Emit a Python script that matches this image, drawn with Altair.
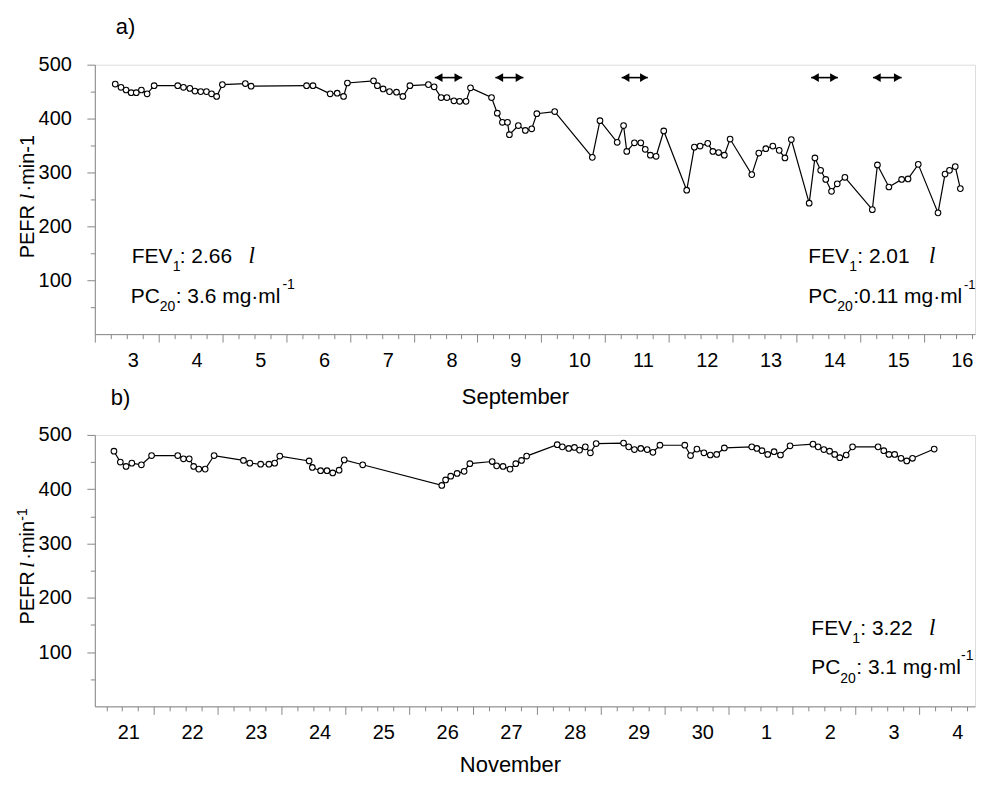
import json
import altair as alt
import pandas as pd

# ---------------- panel a : September ----------------
sep_day = [3.32, 3.41, 3.49, 3.57, 3.65, 3.73, 3.82, 3.93, 4.30, 4.39, 4.49, 4.57, 4.66, 4.75,
           4.83, 4.91, 5.00, 5.36, 5.45, 6.32, 6.42, 6.69, 6.80, 6.90, 6.96, 7.37, 7.43, 7.52,
           7.62, 7.73, 7.83, 7.94, 8.23, 8.32, 8.43, 8.52, 8.63, 8.72, 8.82, 8.89, 9.22, 9.31,
           9.39, 9.47, 9.50, 9.64, 9.75, 9.85, 9.93, 10.21, 10.80, 10.92, 11.19, 11.29, 11.34,
           11.46, 11.56, 11.63, 11.71, 11.80, 11.92, 12.28, 12.40, 12.49, 12.61, 12.69, 12.78,
           12.87, 12.96, 13.30, 13.41, 13.52, 13.63, 13.73, 13.82, 13.92, 14.20, 14.29, 14.38,
           14.46, 14.55, 14.64, 14.76, 15.19, 15.27, 15.45, 15.65, 15.75, 15.91, 16.22, 16.33,
           16.40, 16.49, 16.57]
sep_pefr = [464, 458, 453, 448, 448, 453, 446, 461, 461, 458, 456, 451, 450, 450,
            446, 441, 463, 465, 460, 461, 461, 446, 447, 441, 466, 470, 461, 455,
            450, 449, 441, 461, 463, 459, 439, 439, 433, 432, 432, 457, 439, 410,
            393, 393, 370, 387, 378, 381, 409, 413, 328, 396, 356, 387, 339,
            355, 355, 343, 332, 330, 377, 267, 347, 349, 354, 339, 337,
            332, 362, 296, 336, 344, 349, 341, 327, 361, 243, 327, 304,
            287, 265, 279, 291, 231, 314, 273, 287, 288, 315, 225, 297,
            304, 311, 270]
sep_labels = ["3", "4", "5", "6", "7", "8", "9", "10", "11", "12", "13", "14", "15", "16"]
exposure_start = [8.33, 9.28, 11.26, 14.23, 15.20]
exposure_end = [8.76, 9.72, 11.67, 14.65, 15.65]
exposure_level = [476, 476, 476, 476, 476]

# ---------------- panel b : November ----------------
nov_day = [21.37, 21.47, 21.56, 21.65, 21.80, 21.96, 22.37, 22.46, 22.55, 22.62, 22.70, 22.80,
           22.94, 23.40, 23.50, 23.67, 23.80, 23.89, 23.97, 24.43, 24.48, 24.61, 24.71, 24.80,
           24.90, 24.98, 25.27, 26.51, 26.57, 26.65, 26.75, 26.86, 26.95, 27.30, 27.37, 27.47,
           27.58, 27.67, 27.76, 27.84, 28.32, 28.40, 28.50, 28.59, 28.67, 28.76, 28.84, 28.93,
           29.36, 29.44, 29.53, 29.63, 29.73, 29.82, 29.93, 30.32, 30.41, 30.51, 30.62, 30.72,
           30.82, 30.94, 31.37, 31.45, 31.53, 31.62, 31.72, 31.82, 31.97, 32.33, 32.41, 32.50,
           32.59, 32.67, 32.75, 32.85, 32.95, 33.35, 33.44, 33.52, 33.61, 33.71, 33.80, 33.89,
           34.23]
nov_pefr = [470, 450, 442, 448, 445, 462, 462, 456, 456, 442, 437, 437,
            462, 453, 448, 446, 446, 448, 461, 452, 440, 434, 434, 430,
            435, 454, 445, 407, 417, 424, 429, 433, 447, 451, 443, 442,
            437, 447, 453, 461, 482, 478, 475, 477, 472, 478, 467, 484,
            485, 478, 473, 475, 473, 468, 481, 481, 462, 474, 467, 463,
            464, 476, 478, 475, 471, 464, 469, 463, 480, 483, 478, 473,
            470, 464, 458, 463, 478, 478, 471, 464, 464, 457, 452, 457,
            474]
nov_labels = ["21", "22", "23", "24", "25", "26", "27", "28", "29", "30", "1", "2", "3", "4"]

FONT = "Liberation Sans"
SERIF = "Liberation Serif"
W = 882
ONE = pd.DataFrame({"k": [0]})


def piece(text, x, y, size=21, font=FONT, style="normal", angle=0):
    return alt.Chart(ONE).mark_text(
        text=text, font=font, fontSize=size, fontStyle=style, angle=angle,
        align="left", baseline="alphabetic", color="black"
    ).encode(x=alt.value(x), y=alt.value(y))


def x_axis(labels, first, ticks, title, tx, ty):
    expr = (f"datum.value % 1 === 0.5 ? {json.dumps(labels)}"
            f"[datum.value - 0.5 - {first}] : ''")
    return alt.Axis(
        values=ticks, labelExpr=expr, labelOffset=6, labelOverlap=False, labelFlush=False,
        tickSize={"condition": {"test": "datum.value % 1 === 0", "value": 8}, "value": 4.5},
        labelFont=FONT, labelFontSize=20, labelPadding=12, labelColor="black",
        title=title, titleFont=FONT, titleFontSize=22, titleFontWeight="normal",
        titleColor="black", titleX=tx, titleY=ty, titleAlign="center",
        titleBaseline="alphabetic", grid=False,
    )


Y_AXIS = alt.Axis(
    values=list(range(50, 501, 50)),
    labelExpr="datum.value % 100 === 0 ? datum.label : ''",
    tickSize={"condition": {"test": "datum.value % 100 === 0", "value": 8}, "value": 4.5},
    labelFont=FONT, labelFontSize=20, labelPadding=15.5, labelColor="black",
    title=None, grid=False,
)


def panel(day, pefr, xdom, labels, first, ticks, xtitle, tx, ty, height, extras, with_arrows):
    df = pd.DataFrame({"day": day, "pefr": pefr})
    xs = alt.Scale(domain=xdom, nice=False, zero=False)
    ys = alt.Scale(domain=[0, 500], nice=False, zero=False)
    xa = x_axis(labels, first, ticks, xtitle, tx, ty)
    base = alt.Chart(df).encode(
        x=alt.X("day:Q", scale=xs, axis=xa),
        y=alt.Y("pefr:Q", scale=ys, axis=Y_AXIS),
    )
    line = base.mark_line(color="black", strokeWidth=1.2)
    pts = base.mark_point(shape="circle", filled=True, fill="white", stroke="black",
                          strokeWidth=1.1, size=32, opacity=1)
    layers = [line, pts]
    if with_arrows:
        arr = alt.Chart(pd.DataFrame({"s": exposure_start, "e": exposure_end,
                                      "lvl": exposure_level}))
        yl = alt.Y("lvl:Q", scale=ys, axis=Y_AXIS)
        layers.append(arr.mark_rule(color="black", strokeWidth=1.6).encode(
            x=alt.X("s:Q", scale=xs, axis=xa), x2="e:Q", y=yl))
        layers.append(arr.mark_point(shape="triangle-left", filled=True, color="black",
                                     size=75, opacity=1, xOffset=4).encode(
            x=alt.X("s:Q", scale=xs, axis=xa), y=yl))
        layers.append(arr.mark_point(shape="triangle-right", filled=True, color="black",
                                     size=75, opacity=1, xOffset=-4).encode(
            x=alt.X("e:Q", scale=xs, axis=xa), y=yl))
    layers.extend(extras)
    return alt.layer(*layers).properties(width=W, height=height)


extras_a = [
    piece("a)", 21, -31, 22),
    piece("PEFR", -61, 194, 20, angle=270),
    piece("l", -61, 135, 21, font=SERIF, style="italic", angle=270),
    piece("\u00b7min-1", -61, 127, 20, angle=270),
    piece("FEV", 37, 199), piece("1", 78, 207, 14), piece(": 2.66", 85, 199),
    piece("l", 154, 199, 23, font=SERIF, style="italic"),
    piece("PC", 36, 239), piece("20", 65, 247, 14), piece(": 3.6 mg\u00b7ml", 81, 239),
    piece("-1", 188, 225, 14),
    piece("FEV", 715, 199), piece("1", 756, 207, 14), piece(": 2.01", 764, 199),
    piece("l", 836, 199, 23, font=SERIF, style="italic"),
    piece("PC", 715, 239), piece("20", 744, 247, 14), piece(":0.11 mg\u00b7ml", 760, 239),
    piece("-1", 871, 225, 13),
]

extras_b = [
    piece("b)", 16, -30, 22),
    piece("PEFR", -61, 190, 20, angle=270),
    piece("l", -61, 133, 21, font=SERIF, style="italic", angle=270),
    piece("\u00b7min", -61, 125, 20, angle=270),
    piece("-1", -68, 86, 14, angle=270),
    piece("FEV", 718, 200), piece("1", 759, 209, 14), piece(": 3.22", 767, 200),
    piece("l", 836, 200, 23, font=SERIF, style="italic"),
    piece("PC", 718, 240), piece("20", 747, 249, 14), piece(": 3.1 mg\u00b7ml", 763, 240),
    piece("-1", 868, 226, 14),
]

ticks_a = [3 + 0.25 * i for i in range(56)]
ticks_b = [21.25 + 0.25 * i for i in range(55)]

pa = panel(sep_day, sep_pefr, [3, 16.8], sep_labels, 3, ticks_a, "September", 421, 70, 270,
           extras_a, True)
pb = panel(nov_day, nov_pefr, [21.07, 34.87], nov_labels, 21, ticks_b, "November", 416, 65, 272,
           extras_b, False)

chart = alt.vconcat(pa, pb, spacing=101, bounds="flush").properties(
    padding={"left": 7, "top": 6, "right": 0, "bottom": 0}
).configure_view(stroke=None, strokeWidth=0).configure_axis(
    domainColor="black", domainWidth=1.5, tickColor="black", tickWidth=1.2
).configure(background="white")

chart.save("out.html", embed_options={"renderer": "svg", "actions": False})
